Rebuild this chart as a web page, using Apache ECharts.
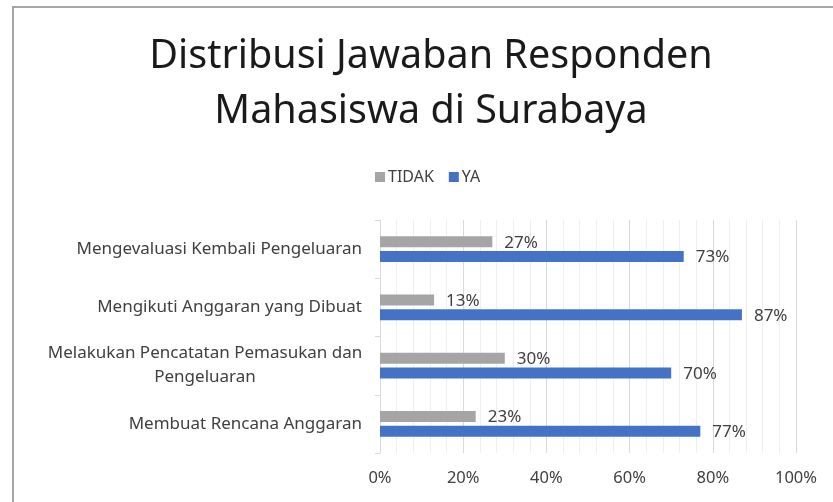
<!DOCTYPE html>
<html>
<head>
<meta charset="utf-8">
<script src="https://cdn.jsdelivr.net/npm/echarts@6/dist/echarts.min.js"></script>
<style>
    html, body { margin: 0; padding: 0; background: #fff; }
    #container { width: 833px; height: 502px; }
</style>
</head>
<body>
<div id="container"></div>
<script>
var categories = [
    'Membuat Rencana Anggaran',
    'Melakukan Pencatatan Pemasukan dan\nPengeluaran',
    'Mengikuti Anggaran yang Dibuat',
    'Mengevaluasi Kembali Pengeluaran'
];
var tidakValues = [23, 30, 13, 27];
var yaValues = [77, 70, 87, 73];
var xTicks = [0, 20, 40, 60, 80, 100];

var dom = document.getElementById("container");
var myChart = echarts.init(dom);
var font = 'Noto Sans';
var textColor = '#404040';

var option = {
    animation: false,
    backgroundColor: '#fff',
    title: {
        text: 'Distribusi Jawaban Responden\nMahasiswa di Surabaya',
        left: 426,
        textAlign: 'center',
        top: 24,
        textStyle: {
            fontFamily: font,
            fontWeight: 'normal',
            fontSize: 39.5,
            lineHeight: 55,
            color: '#1a1a1a'
        }
    },
    legend: {
        data: ['TIDAK', 'YA'],
        top: 164,
        left: 370,
        itemWidth: 10,
        itemHeight: 10,
        itemGap: 15,
        itemStyle: { borderWidth: 0 },
        icon: 'rect',
        textStyle: { fontFamily: font, fontSize: 16, color: textColor, padding: [0, 0, 0, -2] }
    },
    graphic: [{
        type: 'rect',
        shape: { x: 13, y: 7, width: 840, height: 520 },
        style: { fill: 'none', stroke: '#a6a6a6', lineWidth: 2 },
        silent: true
    }],
    grid: { left: 380, right: 37, top: 220, bottom: 49 },
    xAxis: {
        type: 'value',
        min: xTicks[0],
        max: xTicks[xTicks.length - 1],
        interval: 20,
        axisLine: { show: false },
        axisTick: { show: false },
        axisLabel: {
            formatter: '{value}%',
            fontFamily: font,
            fontSize: 16.5,
            color: textColor,
            margin: 17
        },
        splitLine: { show: true, lineStyle: { color: '#d9d9d9', width: 1 } },
        minorTick: { show: false, splitNumber: 5 },
        minorSplitLine: { show: true, lineStyle: { color: '#efefef', width: 1 } }
    },
    yAxis: {
        type: 'category',
        data: categories,
        axisLine: { show: true, lineStyle: { color: '#d9d9d9' } },
        axisTick: { show: true, length: 5, lineStyle: { color: '#d9d9d9' } },
        axisLabel: {
            fontFamily: font,
            fontSize: 17,
            color: textColor,
            margin: 18,
            lineHeight: 24,
            formatter: function (v) {
                if (v.indexOf('\n') != -1) {
                    var parts = v.split('\n');
                    return '{c|' + parts[0] + '}\n{c|' + parts[1] + '}';
                }
                return v;
            },
            rich: {
                c: { width: 314, align: 'center', fontFamily: font, fontSize: 17, color: textColor, lineHeight: 24 }
            }
        }
    },
    series: [
        {
            name: 'TIDAK',
            type: 'bar',
            data: tidakValues,
            barWidth: 11,
            barGap: '35%',
            itemStyle: { color: '#A5A5A5' },
            label: {
                show: true,
                position: 'right',
                distance: 12,
                offset: [0, 1],
                formatter: '{c}%',
                fontFamily: font,
                fontSize: 17,
                color: textColor
            }
        },
        {
            name: 'YA',
            type: 'bar',
            data: yaValues,
            barWidth: 11,
            barGap: '35%',
            itemStyle: { color: '#4472C4' },
            label: {
                show: true,
                position: 'right',
                distance: 12,
                offset: [0, 1],
                formatter: '{c}%',
                fontFamily: font,
                fontSize: 17,
                color: textColor
            }
        }
    ]
};
if (option && typeof option === "object") {
    myChart.setOption(option, true);
}
</script>
</body>
</html>
